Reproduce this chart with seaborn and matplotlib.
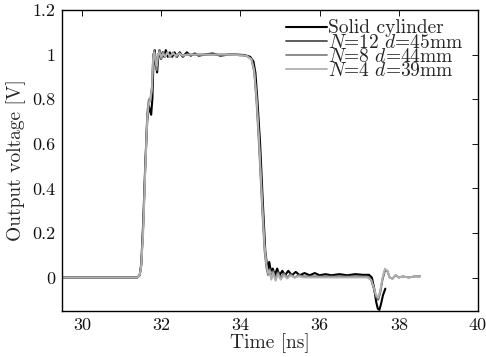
import matplotlib
matplotlib.use("Agg")
import matplotlib.pyplot as plt
import seaborn as sns
import pandas as pd

# ---- data ----
t_solid = [29.5, 31.40, 31.46, 31.50, 31.55, 31.60, 31.65, 31.69, 31.72, 31.75,
           31.78, 31.81, 31.84, 31.87, 31.90, 31.93, 31.96, 32.00, 32.04, 32.08,
           32.12, 32.17, 32.22, 32.28, 32.34, 32.40, 32.47, 32.55, 32.65, 32.75,
           32.85, 32.95, 33.1, 33.3, 33.5, 33.7, 33.9, 34.1, 34.25, 34.33,
           34.38, 34.43, 34.50, 34.57, 34.63, 34.67, 34.70, 34.73, 34.77, 34.82,
           34.87, 34.93, 34.99, 35.06, 35.13, 35.21, 35.30, 35.40, 35.50, 35.62,
           35.75, 35.88, 36.0, 36.15, 36.3, 36.5, 36.7, 36.9, 37.1, 37.25,
           37.32, 37.38, 37.43, 37.47, 37.51, 37.55, 37.60, 37.66]
v_solid = [0.0, 0.0, 0.01, 0.06, 0.25, 0.50, 0.70, 0.77, 0.75, 0.73,
           0.80, 0.98, 1.02, 0.95, 0.92, 0.99, 1.02, 0.98, 1.01, 0.99,
           1.02, 0.99, 1.01, 0.99, 1.01, 0.99, 1.01, 0.99, 1.01, 0.995,
           1.005, 0.995, 1.0, 1.005, 0.995, 1.0, 1.0, 0.998, 0.99, 0.97,
           0.92, 0.80, 0.60, 0.33, 0.12, 0.06, 0.04, 0.07, 0.03, 0.04,
           0.01, 0.04, 0.01, 0.03, 0.01, 0.03, 0.01, 0.025, 0.01, 0.02,
           0.01, 0.02, 0.01, 0.015, 0.01, 0.015, 0.01, 0.015, 0.012, 0.012,
           0.0, -0.05, -0.11, -0.14, -0.145, -0.12, -0.08, -0.05]

t_coax = [29.5, 31.40, 31.46, 31.50, 31.55, 31.60, 31.65, 31.69, 31.73, 31.77,
          31.80, 31.83, 31.86, 31.89, 31.92, 31.96, 32.00, 32.05, 32.10, 32.16,
          32.22, 32.30, 32.38, 32.46, 32.55, 32.65, 32.8, 33.0, 33.3, 33.6,
          33.9, 34.15, 34.28, 34.35, 34.41, 34.48, 34.55, 34.61, 34.66, 34.70,
          34.74, 34.78, 34.83, 34.89, 34.95, 35.02, 35.10, 35.18, 35.27, 35.37,
          35.48, 35.6, 35.8, 36.1, 36.5, 36.9, 37.2, 37.3, 37.37, 37.43,
          37.48, 37.53, 37.59, 37.65, 37.71, 37.77, 37.84, 37.92, 38.0, 38.1,
          38.25, 38.4, 38.54]
v_n12 = [0.0, 0.0, 0.01, 0.05, 0.22, 0.48, 0.72, 0.79, 0.80, 0.86,
         1.00, 1.01, 0.96, 0.94, 1.00, 1.01, 0.99, 1.01, 0.99, 1.01,
         0.99, 1.005, 0.995, 1.005, 0.995, 1.0, 1.0, 1.0, 1.0, 1.0,
         0.998, 0.995, 0.98, 0.93, 0.80, 0.58, 0.33, 0.14, 0.05, 0.02,
         0.04, 0.0, 0.03, -0.005, 0.025, -0.005, 0.02, 0.0, 0.015, 0.0,
         0.01, 0.005, 0.005, 0.005, 0.005, 0.005, 0.005, -0.01, -0.05, -0.09,
         -0.10, -0.07, -0.01, 0.03, 0.03, 0.0, -0.005, 0.01, 0.0, 0.005,
         0.0, 0.005, 0.005]
v_n8 = [0.0, 0.0, 0.01, 0.06, 0.24, 0.50, 0.74, 0.80, 0.79, 0.84,
        0.99, 1.02, 0.97, 0.93, 0.99, 1.02, 0.98, 1.01, 0.99, 1.01,
        0.99, 1.01, 0.99, 1.005, 0.995, 1.0, 1.0, 1.0, 1.0, 1.0,
        0.998, 0.995, 0.98, 0.92, 0.78, 0.56, 0.31, 0.12, 0.04, 0.01,
        0.035, -0.005, 0.025, -0.01, 0.02, -0.005, 0.015, 0.0, 0.012, 0.0,
        0.01, 0.003, 0.003, 0.003, 0.003, 0.003, 0.003, -0.01, -0.05, -0.085,
        -0.095, -0.065, -0.005, 0.035, 0.03, 0.0, -0.005, 0.01, 0.0, 0.005,
        0.0, 0.005, 0.005]
v_n4 = [0.0, 0.0, 0.01, 0.05, 0.20, 0.46, 0.70, 0.78, 0.80, 0.85,
        0.98, 1.01, 0.97, 0.95, 1.0, 1.01, 0.99, 1.005, 0.99, 1.01,
        0.99, 1.005, 0.995, 1.005, 0.995, 1.0, 1.0, 1.0, 1.0, 1.0,
        0.998, 0.995, 0.98, 0.93, 0.81, 0.60, 0.35, 0.15, 0.06, 0.02,
        0.03, -0.01, 0.02, -0.015, 0.015, -0.01, 0.01, -0.005, 0.008, 0.0,
        0.005, 0.0, 0.0, 0.0, 0.0, 0.0, 0.0, -0.01, -0.045, -0.08,
        -0.09, -0.06, 0.0, 0.04, 0.03, 0.0, -0.005, 0.01, 0.0, 0.005,
        0.0, 0.005, 0.005]

labels = ["Solid cylinder", r"$N$=12 $d$=45mm", r"$N$=8 $d$=44mm", r"$N$=4 $d$=39mm"]
colors = ["#000000", "#505050", "#838383", "#b0b0b0"]
widths = [1.5, 1.3, 1.3, 1.3]
x_ticks = [30, 32, 34, 36, 38, 40]
y_ticks = [0, 0.2, 0.4, 0.6, 0.8, 1, 1.2]
y_ticklabels = ["0", "0.2", "0.4", "0.6", "0.8", "1", "1.2"]

# ---- style ----
sns.set_theme(style="white")
plt.rcParams["font.family"] = ["cmr10", "DejaVu Serif"]
plt.rcParams["mathtext.fontset"] = "cm"
plt.rcParams["axes.formatter.use_mathtext"] = True
plt.rcParams["xtick.direction"] = "in"
plt.rcParams["ytick.direction"] = "in"

fig = plt.figure(figsize=(4.86, 3.57), dpi=100)
ax = fig.add_axes([0.1276, 0.129, 0.856, 0.843])

series = [(t_solid, v_solid), (t_coax, v_n12), (t_coax, v_n8), (t_coax, v_n4)]
for (tt, vv), lab, c, w in zip(series, labels, colors, widths):
    df = pd.DataFrame({"t": tt, "v": vv})
    sns.lineplot(data=df, x="t", y="v", ax=ax, color=c, linewidth=w,
                 label=lab, sort=False, estimator=None)

ax.set_xlim(29.5, 40)
ax.set_ylim(-0.15, 1.2)
ax.set_xticks(x_ticks)
ax.set_xticklabels([str(x) for x in x_ticks])
ax.set_yticks(y_ticks)
ax.set_yticklabels(y_ticklabels)
ax.tick_params(axis="both", which="both", direction="in", top=True, right=True,
               length=4, width=0.7, labelsize=13, colors="#111111", pad=5)
for s in ax.spines.values():
    s.set_color("#000000")
    s.set_linewidth(1.0)
ax.set_xlabel("Time [ns]", fontsize=14, labelpad=0)
ax.set_ylabel("Output voltage [V]", fontsize=14, labelpad=4)

leg = ax.legend(loc="upper right", bbox_to_anchor=(0.969, 0.975), frameon=False,
                fontsize=14, handlelength=2.1, handletextpad=0.05,
                labelspacing=-0.2, borderaxespad=0.0, borderpad=0.1)

fig.savefig("out.png", dpi=100)
